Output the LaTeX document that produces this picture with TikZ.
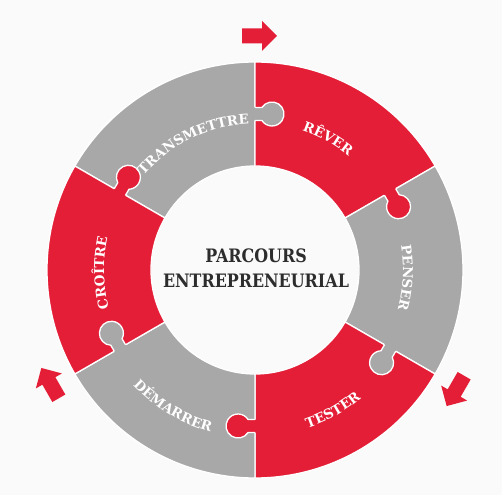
\documentclass[tikz,border=0pt]{standalone}
\usepackage{fontspec}
\setmainfont{DejaVu Serif}
\newfontfamily\titlefamily{DejaVu Serif}[FakeStretch=0.86]
\usetikzlibrary{decorations.text}
\definecolor{puzred}{RGB}{228,30,55}
\definecolor{puzgray}{RGB}{168,168,168}
\definecolor{bgcol}{RGB}{250,250,250}
\definecolor{titlecol}{RGB}{45,45,45}
\newcommand\lblfont{\bfseries\fontsize{13.5}{13.5}\selectfont}
\begin{document}
\begin{tikzpicture}[x=1pt,y=1pt,
  piece/.style={draw=white, line width=1.3pt, line join=round},
  seam/.style={draw=white, line width=1.3pt, line join=round},
  lbl/.style={decorate, decoration={text along path, text align=center,
      text={|\color{white}\lblfont|#1}}},
  flow/.style={fill=puzred}]
\def\Rin{104}
\def\Rout{208}
\def\Rmid{156}

\fill[bgcol] (-255,-225) rectangle (247,270);
\useasboundingbox (-255,-225) rectangle (247,270);

% ring of six pieces, each spanning 60 degrees around its centre angle
\foreach \a/\c in {120/puzgray, 60/puzred, 0/puzgray, -60/puzred, -120/puzgray, 180/puzred} {
  \filldraw[piece, fill=\c]
    (\a+30:\Rin) -- (\a+30:\Rout)
    arc[start angle=\a+30, end angle=\a-30, radius=\Rout]
    -- (\a-30:\Rin)
    arc[start angle=\a-30, end angle=\a+30, radius=\Rin] -- cycle;
}

% puzzle knobs: each piece pushes a tab clockwise into its neighbour
\foreach \b/\c in {90/puzgray, 30/puzred, -30/puzgray, -90/puzred, -150/puzgray, 150/puzred} {
  \begin{scope}[shift={(\b:\Rmid)}, rotate=\b-90]
    \fill[\c] (-3,6.5) -- (6.91,6.5)
      arc[start angle=147.2, end angle=-147.2, radius=12] -- (-3,-6.5) -- cycle;
    \draw[seam] (0,6.5) -- (6.91,6.5)
      arc[start angle=147.2, end angle=-147.2, radius=12] -- (0,-6.5);
  \end{scope}
}

% direction arrows around the ring
\foreach \b in {90,-30,210} {
  \begin{scope}[shift={(\b:234)}, rotate=\b-90]
    \fill[flow] (-13,-7.5) -- (7,-7.5) -- (7,-15) -- (22,0) -- (7,15) -- (7,7.5) -- (-13,7.5) -- cycle;
  \end{scope}
}

% piece labels, following the ring
\path[lbl=TRANSMETTRE] (146:146) arc[start angle=146, end angle=86, radius=146];
\path[lbl=RÊVER] (91:147.5) arc[start angle=91, end angle=31, radius=147.5];
\path[lbl=PENSER] (27:148) arc[start angle=27, end angle=-33, radius=148];
\path[lbl=CROÎTRE] (211:151) arc[start angle=211, end angle=151, radius=151];
\path[lbl=TESTER] (-91:166.5) arc[start angle=-91, end angle=-31, radius=166.5];
\path[lbl=DÉMARRER] (-151:168) arc[start angle=-151, end angle=-91, radius=168];

% title in the middle
\node[align=center, text=titlecol, font=\titlefamily\bfseries\fontsize{18.5}{25}\selectfont] (title) at (1,2)
  {PARCOURS\\ENTREPRENEURIAL};
\end{tikzpicture}
\end{document}
